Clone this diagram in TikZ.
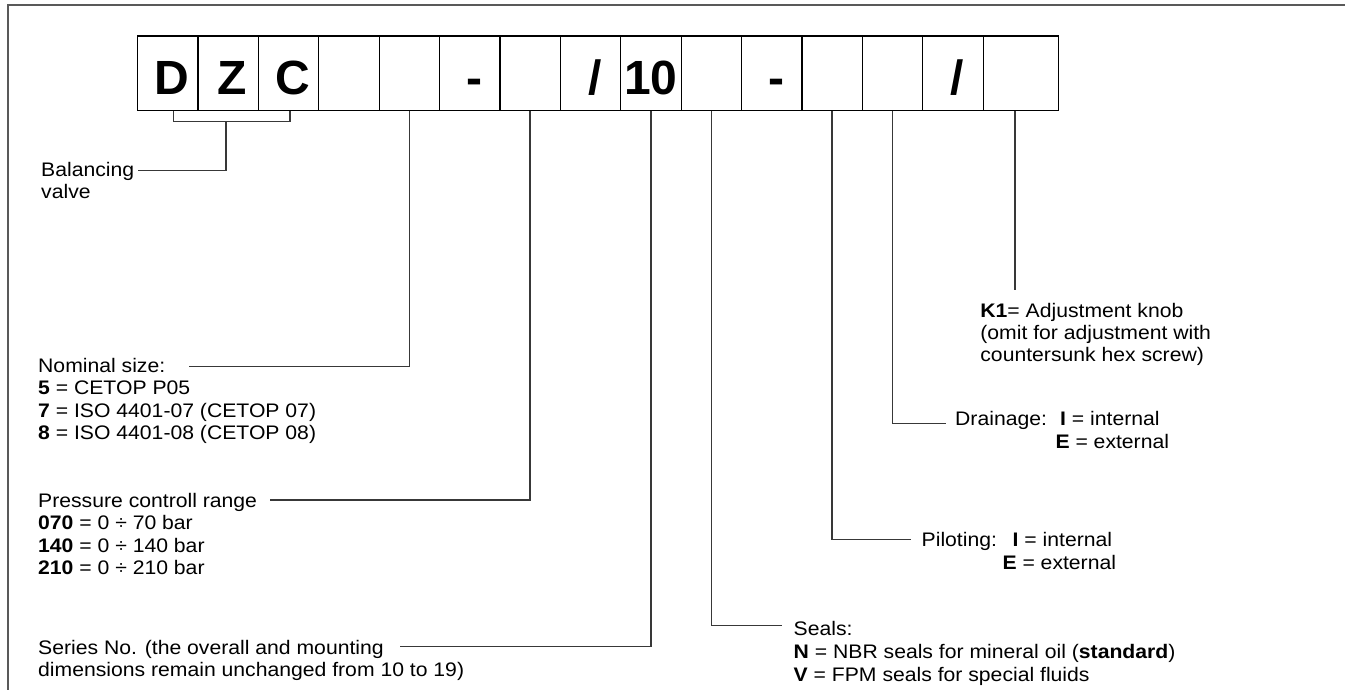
\documentclass[tikz,border=0pt]{standalone}
\usepackage{fontspec}
\setmainfont{Liberation Sans}[FakeStretch=1.08]
\newfontfamily\bigfont{Liberation Sans}
\begin{document}
\begin{tikzpicture}[x=1pt,y=-1pt,
  cell/.style={draw=black, line width=1.2pt, minimum width=60.4pt, minimum height=74.7pt, inner sep=0pt, outer sep=0pt},
  big/.style={font=\bigfont\bfseries\fontsize{48}{48}\selectfont, anchor=base, inner sep=0pt},
  txt/.style={font=\fontsize{19.6}{22}\selectfont, anchor=base west, inner sep=0pt},
  lead/.style={draw=black!78, line width=1.3pt},
  frameline/.style={draw=black!65, line width=2.4pt}]
\path[use as bounding box] (0,0) rectangle (1345,690);
\clip (0,0) rectangle (1345,690);
% frame
\draw[frameline] (8,700) -- (8,5) -- (1360,5);
% cells
\foreach \i in {1,...,14}
  \node[cell] (c\i) at ({137.5+60.4*(\i-0.5)},73.35) {};
\node[cell, minimum width=75.6pt] (c15) at (1020.9,73.35) {};
% code characters
\node[big] (tD) at (172.2,95) {D};
\node[big] (tZ) at (232.6,95) {Z};
\node[big] (tC) at (293.0,95) {C};
\node[big] (tm1) at (474.2,95) {-};
\node[big] (ts1) at (595.0,95) {/};
\node[big] (t10) at (650.9,95) {10};
\node[big] (tm2) at (776.2,95) {-};
\node[big] (ts2) at (957.4,95) {/};
% texts
\node[txt] (bal1) at (41,177) {Balancing};
\node[txt] (bal2) at (41,199) {valve};
\node[txt] (nom1) at (38,372) {Nominal size:};
\node[txt] (nom2) at (38,394.5) {\textbf{5} = CETOP P05};
\node[txt] (nom3) at (38,417) {\textbf{7} = ISO 4401-07 (CETOP 07)};
\node[txt] (nom4) at (38,439.5) {\textbf{8} = ISO 4401-08 (CETOP 08)};
\node[txt] (pr1) at (38,507) {Pressure controll range};
\node[txt] (pr2) at (38,529.5) {\textbf{070} = 0 ÷ 70 bar};
\node[txt] (pr3) at (38,552) {\textbf{140} = 0 ÷ 140 bar};
\node[txt] (pr4) at (38,574.5) {\textbf{210} = 0 ÷ 210 bar};
\node[txt] (ser1) at (38,654) {Series No. (the overall and mounting};
\node[txt] (ser2) at (38,676.5) {dimensions remain unchanged from 10 to 19)};
\node[txt] (sea1) at (793.5,635) {Seals:};
\node[txt] (sea2) at (793.5,658) {\textbf{N} = NBR seals for mineral oil (\textbf{standard})};
\node[txt] (sea3) at (793.5,681) {\textbf{V} = FPM seals for special fluids};
\node[txt] (pil1) at (921.5,546.7) {Piloting:};
\node[txt] (pil2) at (1012.5,546.7) {\textbf{I} = internal};
\node[txt] (pil3) at (1002.3,569.3) {\textbf{E} = external};
\node[txt] (dr1) at (955,425) {Drainage:};
\node[txt] (dr2) at (1060,425) {\textbf{I} = internal};
\node[txt] (dr3) at (1055.3,448.3) {\textbf{E} = external};
\node[txt] (k1a) at (980.2,317) {\textbf{K1}= Adjustment knob};
\node[txt] (k1b) at (980.2,339) {(omit for adjustment with};
\node[txt] (k1c) at (980.2,361) {countersunk hex screw)};
% connector end points
\coordinate (brL) at (173.3,121.7);
\coordinate (brR) at (290,121.7);
\coordinate (brM) at (226,121.7);
\coordinate (balE) at (138.4,170.7);
\coordinate (nomE) at (189.4,366.7);
\coordinate (prE) at (270,500);
\coordinate (serE) at (400,646.7);
\coordinate (seaE) at (782,625.7);
\coordinate (pilE) at (911,539.3);
\coordinate (drE) at (945.8,423.3);
\coordinate (k1E) at (1015,290);
% connectors
\draw[lead] (brL |- c1.south) -- (brL) -- (brR) -- (brR |- c3.south);
\draw[lead] (brM) |- (balE);
\draw[lead] (c5.south) |- (nomE);
\draw[lead] (c7.south) |- (prE);
\draw[lead] (c9.south) |- (serE);
\draw[lead] (c10.south) |- (seaE);
\draw[lead] (c12.south) |- (pilE);
\draw[lead] (c13.south) |- (drE);
\draw[lead] (k1E |- c15.south) -- (k1E);
\end{tikzpicture}
\end{document}
